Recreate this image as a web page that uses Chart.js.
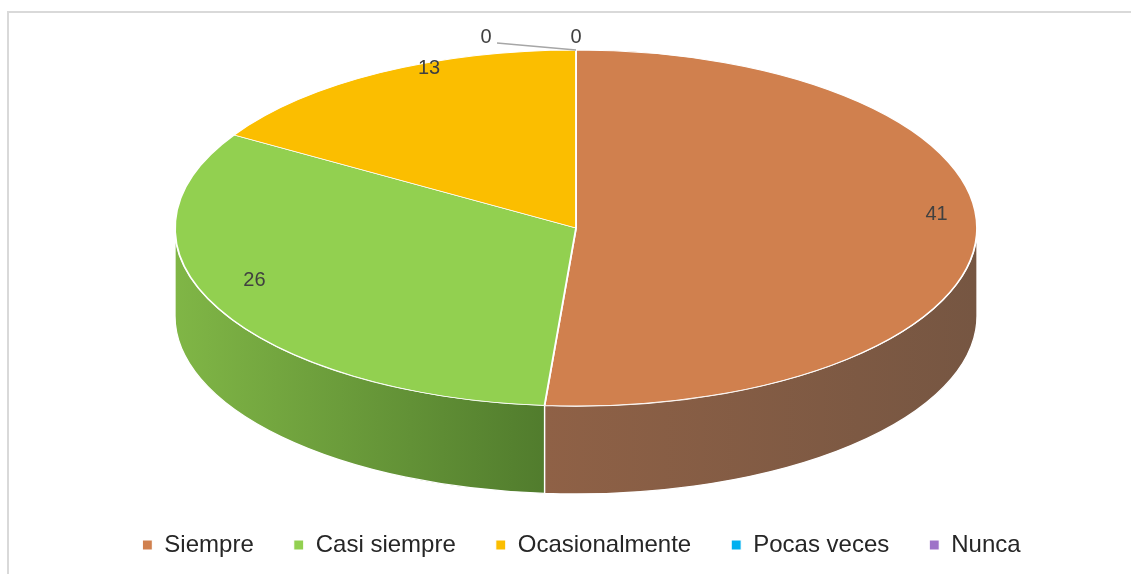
<!DOCTYPE html>
<html>
<head>
<meta charset="utf-8">
<script src="https://cdn.jsdelivr.net/npm/chart.js@4/dist/chart.umd.min.js"></script>
<style>
  html, body { margin: 0; padding: 0; background: #fff; }
  #wrap { position: relative; width: 1131px; height: 574px; }
  #frame { position: absolute; left: 7px; top: 11px; right: 0; bottom: 0; border-left: 2px solid #d9d9d9; border-top: 2px solid #d9d9d9; }
  canvas { position: absolute; left: 0; top: 0; }
</style>
</head>
<body>
<div id="wrap">
  <div id="frame"></div>
  <canvas id="chart" width="1131" height="574"></canvas>
</div>
<script>
const categories = ['Siempre', 'Casi siempre', 'Ocasionalmente', 'Pocas veces', 'Nunca']
const values = [41, 26, 13, 0, 0]
const topColors = ['#D0804E', '#92D050', '#FBBE00', '#00B0F0', '#9E72C8']
// wall gradient: [colour at start angle, colour at end angle]
const wallColors = [['#765642', '#8F6146'], ['#517C2D', '#80B646'], ['#C99700', '#E0A900'], ['#0090C8', '#0090C8'], ['#7E58A4', '#7E58A4']]

// 3d look of the pie (ellipse on screen)
const CX = 576
const CY = 228
const RX = 401
const RY = 178
const DEPTH = 88

function drawWall (ctx, s, e, cols) {
  let x1 = CX + RX * Math.cos(s)
  let x2 = CX + RX * Math.cos(e)
  let grad = ctx.createLinearGradient(x1, 0, x2 + 0.01, 0)
  grad.addColorStop(0, cols[0])
  grad.addColorStop(1, cols[1])
  ctx.beginPath()
  ctx.ellipse(CX, CY, RX, RY, 0, s, e)
  ctx.ellipse(CX, CY + DEPTH, RX, RY, 0, e, s, true)
  ctx.closePath()
  ctx.fillStyle = grad
  ctx.fill()
  ctx.strokeStyle = '#fff'
  ctx.lineWidth = 1.3
  ctx.stroke()
}

const pie3d = {
  id: 'pie3d',
  beforeDatasetsDraw (chart) {
    const ctx = chart.ctx
    const meta = chart.getDatasetMeta(0)
    ctx.save()
    meta.data.forEach(function (arc, i) {
      let s = Math.max(arc.startAngle, 0)
      let e = Math.min(arc.endAngle, Math.PI)
      if (e > s) {
        drawWall(ctx, s, e, wallColors[i])
      }
    })
    ctx.restore()
    const a = meta.data[0]
    ctx.save()
    ctx.translate(CX, CY)
    ctx.scale(RX / a.outerRadius, RY / a.outerRadius)
    ctx.translate(-a.x, -a.y)
  },
  afterDatasetsDraw (chart) {
    const ctx = chart.ctx
    ctx.restore()
    const meta = chart.getDatasetMeta(0)
    ctx.save()
    ctx.font = '20px "Liberation Sans"'
    ctx.fillStyle = '#404040'
    ctx.textAlign = 'center'
    ctx.textBaseline = 'middle'
    let zeros = 0
    let zeroList = []
    meta.data.forEach(function (arc, i) {
      if (values[i] === 0) zeroList.push(i)
    })
    meta.data.forEach(function (arc, i) {
      let mid = (arc.startAngle + arc.endAngle) / 2
      if (values[i] === 0) {
        let k = zeroList.length - 1 - zeros
        zeros++
        let rimX = CX + RX * Math.cos(mid)
        let rimY = CY + RY * Math.sin(mid)
        let lx = rimX - 90 * k
        let ly = rimY - 13
        if (k > 0) {
          ctx.beginPath()
          ctx.moveTo(lx + 11, ly + 6)
          ctx.lineTo(rimX, rimY)
          ctx.strokeStyle = '#a6a6a6'
          ctx.lineWidth = 1.5
          ctx.stroke()
        }
        ctx.fillText(String(values[i]), lx, ly)
        return
      }
      // small nudge to mimic the perspective of the original
      let f = i === 2 ? 0.75 : 0.9
      let x = CX + f * RX * Math.cos(mid)
      let y = CY + 0.9 * RY * Math.sin(mid) - 20
      ctx.fillText(String(values[i]), x, y)
    })
    ctx.restore()
  }
}

new Chart(document.getElementById('chart'), {
  type: 'pie',
  data: {
    labels: categories,
    datasets: [{
      data: values,
      backgroundColor: topColors,
      borderColor: '#fff',
      borderWidth: 1.1,
      clip: false
    }]
  },
  options: {
    responsive: false,
    animation: false,
    layout: { padding: { top: 20, bottom: 7, left: 32 } },
    plugins: {
      legend: {
        position: 'bottom',
        labels: {
          boxWidth: 10,
          boxHeight: 10,
          padding: 40,
          color: '#262626',
          font: { family: 'Liberation Sans', size: 24 }
        }
      },
      tooltip: { enabled: false }
    }
  },
  plugins: [pie3d]
})
</script>
</body>
</html>
